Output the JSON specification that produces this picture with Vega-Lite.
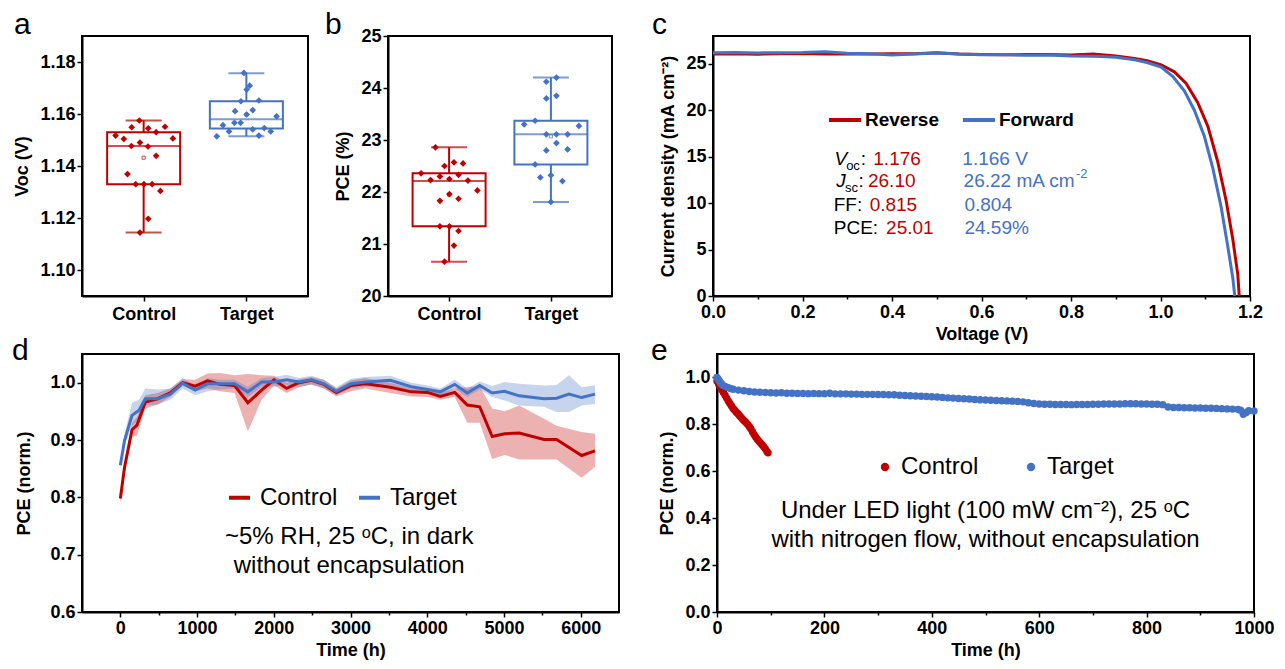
{
"$schema": "https://vega.github.io/schema/vega-lite/v6.json",
"background": "white",
"padding": {"left": 10, "top": 9, "right": 5, "bottom": 5},
"config": {
 "font": "Liberation Sans",
 "view": {"stroke": "black", "strokeWidth": 2},
 "axis": {"grid": false, "domainColor": "black", "domainWidth": 2, "tickColor": "black", "tickWidth": 1.5, "tickSize": 5, "labelFont": "Liberation Sans", "labelFontSize": 18, "labelFontWeight": "bold", "labelColor": "black", "labelPadding": 2, "titleFont": "Liberation Sans", "titleFontSize": 18, "titleFontWeight": "bold", "titleColor": "black", "labelOverlap": false, "labelFlush": false},
 "title": {"font": "Liberation Sans", "fontSize": 30, "fontWeight": "normal", "color": "black", "anchor": "start", "frame": "bounds", "baseline": "alphabetic", "offset": -4},
 "legend": {"labelFont": "Liberation Sans", "labelColor": "black", "padding": 0}
},
"datasets": {
 "aBox": [
  {"g": "Control", "x": 1, "lo": 1.1144, "q1": 1.133, "med": 1.1477, "q3": 1.153, "hi": 1.1575, "mean": 1.1432},
  {"g": "Target", "x": 2, "lo": 1.1514, "q1": 1.1544, "med": 1.158, "q3": 1.1649, "hi": 1.1757, "mean": 1.1598}
 ],
 "aPts": [
  {"g": "Control", "xpos": 0.958, "v": 1.1575},
  {"g": "Control", "xpos": 0.727, "v": 1.1517},
  {"g": "Control", "xpos": 0.884, "v": 1.1549},
  {"g": "Control", "xpos": 0.807, "v": 1.1504},
  {"g": "Control", "xpos": 1.045, "v": 1.1545},
  {"g": "Control", "xpos": 1.208, "v": 1.1551},
  {"g": "Control", "xpos": 1.122, "v": 1.153},
  {"g": "Control", "xpos": 1.285, "v": 1.1506},
  {"g": "Control", "xpos": 0.881, "v": 1.1477},
  {"g": "Control", "xpos": 0.964, "v": 1.149},
  {"g": "Control", "xpos": 1.042, "v": 1.1475},
  {"g": "Control", "xpos": 1.122, "v": 1.1439},
  {"g": "Control", "xpos": 0.843, "v": 1.1369},
  {"g": "Control", "xpos": 0.923, "v": 1.133},
  {"g": "Control", "xpos": 1.003, "v": 1.133},
  {"g": "Control", "xpos": 1.083, "v": 1.133},
  {"g": "Control", "xpos": 1.163, "v": 1.1304},
  {"g": "Control", "xpos": 1.045, "v": 1.1197},
  {"g": "Control", "xpos": 0.964, "v": 1.1144},
  {"g": "Target", "xpos": 1.976, "v": 1.1758},
  {"g": "Target", "xpos": 2.033, "v": 1.1709},
  {"g": "Target", "xpos": 2.003, "v": 1.1694},
  {"g": "Target", "xpos": 1.947, "v": 1.1649},
  {"g": "Target", "xpos": 2.122, "v": 1.1652},
  {"g": "Target", "xpos": 1.89, "v": 1.1611},
  {"g": "Target", "xpos": 2.003, "v": 1.1598},
  {"g": "Target", "xpos": 2.062, "v": 1.1615},
  {"g": "Target", "xpos": 2.294, "v": 1.1591},
  {"g": "Target", "xpos": 1.772, "v": 1.1557},
  {"g": "Target", "xpos": 1.884, "v": 1.1566},
  {"g": "Target", "xpos": 1.944, "v": 1.1566},
  {"g": "Target", "xpos": 1.831, "v": 1.1533},
  {"g": "Target", "xpos": 2.062, "v": 1.1541},
  {"g": "Target", "xpos": 2.175, "v": 1.1546},
  {"g": "Target", "xpos": 2.237, "v": 1.1533},
  {"g": "Target", "xpos": 1.712, "v": 1.1514},
  {"g": "Target", "xpos": 2.122, "v": 1.1517}
 ],
 "bBox": [
  {"g": "Control", "x": 1, "lo": 20.66, "q1": 21.34, "med": 22.21, "q3": 22.36, "hi": 22.86, "mean": 21.95},
  {"g": "Target", "x": 2, "lo": 21.81, "q1": 22.53, "med": 23.11, "q3": 23.37, "hi": 24.2, "mean": 23.07}
 ],
 "bPts": [
  {"g": "Control", "xpos": 0.866, "v": 22.86},
  {"g": "Control", "xpos": 0.955, "v": 22.5},
  {"g": "Control", "xpos": 1.048, "v": 22.57},
  {"g": "Control", "xpos": 1.137, "v": 22.55},
  {"g": "Control", "xpos": 0.725, "v": 22.36},
  {"g": "Control", "xpos": 0.818, "v": 22.23},
  {"g": "Control", "xpos": 0.91, "v": 22.3},
  {"g": "Control", "xpos": 1.003, "v": 22.25},
  {"g": "Control", "xpos": 1.093, "v": 22.33},
  {"g": "Control", "xpos": 1.185, "v": 22.22},
  {"g": "Control", "xpos": 1.278, "v": 22.03},
  {"g": "Control", "xpos": 1.003, "v": 21.96},
  {"g": "Control", "xpos": 0.91, "v": 21.83},
  {"g": "Control", "xpos": 1.093, "v": 21.87},
  {"g": "Control", "xpos": 0.91, "v": 21.34},
  {"g": "Control", "xpos": 1.003, "v": 21.34},
  {"g": "Control", "xpos": 1.093, "v": 21.25},
  {"g": "Control", "xpos": 1.048, "v": 20.97},
  {"g": "Control", "xpos": 0.955, "v": 20.66},
  {"g": "Target", "xpos": 2.054, "v": 24.2},
  {"g": "Target", "xpos": 1.955, "v": 24.12},
  {"g": "Target", "xpos": 2.054, "v": 23.85},
  {"g": "Target", "xpos": 1.955, "v": 23.8},
  {"g": "Target", "xpos": 1.737, "v": 23.3},
  {"g": "Target", "xpos": 1.845, "v": 23.37},
  {"g": "Target", "xpos": 2.275, "v": 23.27},
  {"g": "Target", "xpos": 1.955, "v": 23.11},
  {"g": "Target", "xpos": 2.054, "v": 23.11},
  {"g": "Target", "xpos": 2.164, "v": 23.11},
  {"g": "Target", "xpos": 2.054, "v": 22.94},
  {"g": "Target", "xpos": 1.955, "v": 22.8},
  {"g": "Target", "xpos": 2.164, "v": 22.82},
  {"g": "Target", "xpos": 1.845, "v": 22.53},
  {"g": "Target", "xpos": 1.896, "v": 22.28},
  {"g": "Target", "xpos": 2.0, "v": 22.32},
  {"g": "Target", "xpos": 2.113, "v": 22.21},
  {"g": "Target", "xpos": 2.0, "v": 21.81}
 ],
 "jv": [
  {"scan": "Reverse", "v": 0, "j": 26.05}, {"scan": "Reverse", "v": 0.05, "j": 26.08}, {"scan": "Reverse", "v": 0.1, "j": 26.04}, {"scan": "Reverse", "v": 0.15, "j": 26.1}, {"scan": "Reverse", "v": 0.2, "j": 26.12}, {"scan": "Reverse", "v": 0.25, "j": 26.06}, {"scan": "Reverse", "v": 0.3, "j": 26.1}, {"scan": "Reverse", "v": 0.35, "j": 26.05}, {"scan": "Reverse", "v": 0.4, "j": 26.08}, {"scan": "Reverse", "v": 0.45, "j": 26.1}, {"scan": "Reverse", "v": 0.5, "j": 26.2}, {"scan": "Reverse", "v": 0.55, "j": 26.05}, {"scan": "Reverse", "v": 0.6, "j": 26.0}, {"scan": "Reverse", "v": 0.65, "j": 25.98}, {"scan": "Reverse", "v": 0.7, "j": 26.0}, {"scan": "Reverse", "v": 0.75, "j": 26.0}, {"scan": "Reverse", "v": 0.8, "j": 25.95}, {"scan": "Reverse", "v": 0.85, "j": 26.05}, {"scan": "Reverse", "v": 0.868, "j": 25.98}, {"scan": "Reverse", "v": 0.9, "j": 25.85}, {"scan": "Reverse", "v": 0.942, "j": 25.59}, {"scan": "Reverse", "v": 0.97, "j": 25.35}, {"scan": "Reverse", "v": 1.0016, "j": 24.9}, {"scan": "Reverse", "v": 1.031, "j": 24.14}, {"scan": "Reverse", "v": 1.057, "j": 22.92}, {"scan": "Reverse", "v": 1.083, "j": 20.85}, {"scan": "Reverse", "v": 1.106, "j": 18.25}, {"scan": "Reverse", "v": 1.128, "j": 14.44}, {"scan": "Reverse", "v": 1.1466, "j": 10.28}, {"scan": "Reverse", "v": 1.1615, "j": 6.13}, {"scan": "Reverse", "v": 1.1727, "j": 2.33}, {"scan": "Reverse", "v": 1.176, "j": 0},
  {"scan": "Forward", "v": 0, "j": 26.2}, {"scan": "Forward", "v": 0.05, "j": 26.22}, {"scan": "Forward", "v": 0.1, "j": 26.18}, {"scan": "Forward", "v": 0.15, "j": 26.2}, {"scan": "Forward", "v": 0.2, "j": 26.22}, {"scan": "Forward", "v": 0.25, "j": 26.3}, {"scan": "Forward", "v": 0.3, "j": 26.15}, {"scan": "Forward", "v": 0.35, "j": 26.1}, {"scan": "Forward", "v": 0.4, "j": 25.95}, {"scan": "Forward", "v": 0.45, "j": 26.05}, {"scan": "Forward", "v": 0.5, "j": 26.18}, {"scan": "Forward", "v": 0.55, "j": 26.05}, {"scan": "Forward", "v": 0.6, "j": 25.98}, {"scan": "Forward", "v": 0.65, "j": 26.0}, {"scan": "Forward", "v": 0.7, "j": 25.92}, {"scan": "Forward", "v": 0.75, "j": 25.95}, {"scan": "Forward", "v": 0.8, "j": 25.85}, {"scan": "Forward", "v": 0.85, "j": 25.82}, {"scan": "Forward", "v": 0.868, "j": 25.8}, {"scan": "Forward", "v": 0.9, "j": 25.7}, {"scan": "Forward", "v": 0.942, "j": 25.45}, {"scan": "Forward", "v": 0.97, "j": 25.15}, {"scan": "Forward", "v": 1.0016, "j": 24.65}, {"scan": "Forward", "v": 1.0277, "j": 23.62}, {"scan": "Forward", "v": 1.0536, "j": 22.06}, {"scan": "Forward", "v": 1.0759, "j": 19.98}, {"scan": "Forward", "v": 1.098, "j": 17.2}, {"scan": "Forward", "v": 1.117, "j": 13.75}, {"scan": "Forward", "v": 1.1354, "j": 9.6}, {"scan": "Forward", "v": 1.15, "j": 5.44}, {"scan": "Forward", "v": 1.1615, "j": 1.97}, {"scan": "Forward", "v": 1.166, "j": 0}
 ],
 "cAnn": [
  {"k": "ki", "v": 0.2717, "j": 14.8, "t": "V"},
  {"k": "ks", "v": 0.2975, "j": 14.05, "t": "oc"},
  {"k": "k", "v": 0.33, "j": 14.8, "t": ":"},
  {"k": "r", "v": 0.3582, "j": 14.8, "t": "1.176"},
  {"k": "b", "v": 0.5572, "j": 14.8, "t": "1.166 V"},
  {"k": "ki", "v": 0.2754, "j": 12.37, "t": "J"},
  {"k": "ks", "v": 0.2947, "j": 11.65, "t": "sc"},
  {"k": "k", "v": 0.3251, "j": 12.37, "t": ":"},
  {"k": "r", "v": 0.3463, "j": 12.37, "t": "26.10"},
  {"k": "b", "v": 0.56, "j": 12.37, "t": "26.22 mA cm"},
  {"k": "bs", "v": 0.811, "j": 13.1, "t": "-2"},
  {"k": "k", "v": 0.2698, "j": 9.75, "t": "FF:"},
  {"k": "r", "v": 0.35, "j": 9.75, "t": "0.815"},
  {"k": "b", "v": 0.5618, "j": 9.75, "t": "0.804"},
  {"k": "k", "v": 0.2698, "j": 7.28, "t": "PCE:"},
  {"k": "r", "v": 0.3868, "j": 7.28, "t": "25.01"},
  {"k": "b", "v": 0.5618, "j": 7.28, "t": "24.59%"}
 ],
 "dData": [
  {"s": "Control", "t": 0, "p": 0.798, "lo": 0.79, "hi": 0.806},
  {"s": "Control", "t": 54, "p": 0.852, "lo": 0.84, "hi": 0.862},
  {"s": "Control", "t": 152, "p": 0.918, "lo": 0.905, "hi": 0.93},
  {"s": "Control", "t": 217, "p": 0.926, "lo": 0.908, "hi": 0.94},
  {"s": "Control", "t": 325, "p": 0.966, "lo": 0.955, "hi": 0.978},
  {"s": "Control", "t": 487, "p": 0.972, "lo": 0.962, "hi": 0.982},
  {"s": "Control", "t": 650, "p": 0.982, "lo": 0.975, "hi": 0.99},
  {"s": "Control", "t": 812, "p": 1.0, "lo": 0.994, "hi": 1.006},
  {"s": "Control", "t": 975, "p": 0.994, "lo": 0.985, "hi": 1.005},
  {"s": "Control", "t": 1137, "p": 1.003, "lo": 0.99, "hi": 1.016},
  {"s": "Control", "t": 1300, "p": 0.997, "lo": 0.985, "hi": 1.017},
  {"s": "Control", "t": 1489, "p": 0.995, "lo": 0.982, "hi": 1.013},
  {"s": "Control", "t": 1662, "p": 0.965, "lo": 0.915, "hi": 1.015},
  {"s": "Control", "t": 1841, "p": 0.987, "lo": 0.97, "hi": 1.013},
  {"s": "Control", "t": 2004, "p": 1.005, "lo": 0.995, "hi": 1.012},
  {"s": "Control", "t": 2166, "p": 0.99, "lo": 0.982, "hi": 1.0},
  {"s": "Control", "t": 2329, "p": 1.0, "lo": 0.992, "hi": 1.006},
  {"s": "Control", "t": 2491, "p": 1.004, "lo": 0.997, "hi": 1.01},
  {"s": "Control", "t": 2653, "p": 0.997, "lo": 0.99, "hi": 1.005},
  {"s": "Control", "t": 2816, "p": 0.983, "lo": 0.976, "hi": 0.99},
  {"s": "Control", "t": 3005, "p": 0.995, "lo": 0.985, "hi": 1.004},
  {"s": "Control", "t": 3195, "p": 0.998, "lo": 0.99, "hi": 1.008},
  {"s": "Control", "t": 3520, "p": 0.992, "lo": 0.982, "hi": 1.0},
  {"s": "Control", "t": 3791, "p": 0.984, "lo": 0.976, "hi": 0.99},
  {"s": "Control", "t": 4007, "p": 0.983, "lo": 0.975, "hi": 0.99},
  {"s": "Control", "t": 4170, "p": 0.976, "lo": 0.97, "hi": 0.983},
  {"s": "Control", "t": 4359, "p": 0.983, "lo": 0.975, "hi": 0.99},
  {"s": "Control", "t": 4522, "p": 0.961, "lo": 0.93, "hi": 0.992},
  {"s": "Control", "t": 4684, "p": 0.958, "lo": 0.93, "hi": 0.994},
  {"s": "Control", "t": 4847, "p": 0.906, "lo": 0.867, "hi": 0.955},
  {"s": "Control", "t": 5009, "p": 0.911, "lo": 0.874, "hi": 0.95},
  {"s": "Control", "t": 5199, "p": 0.912, "lo": 0.866, "hi": 0.96},
  {"s": "Control", "t": 5523, "p": 0.901, "lo": 0.866, "hi": 0.937},
  {"s": "Control", "t": 5686, "p": 0.901, "lo": 0.866, "hi": 0.925},
  {"s": "Control", "t": 6013, "p": 0.873, "lo": 0.834, "hi": 0.914},
  {"s": "Control", "t": 6187, "p": 0.881, "lo": 0.853, "hi": 0.911},
  {"s": "Target", "t": 0, "p": 0.856, "lo": 0.85, "hi": 0.862},
  {"s": "Target", "t": 54, "p": 0.899, "lo": 0.89, "hi": 0.91},
  {"s": "Target", "t": 152, "p": 0.943, "lo": 0.925, "hi": 0.965},
  {"s": "Target", "t": 244, "p": 0.952, "lo": 0.935, "hi": 0.97},
  {"s": "Target", "t": 325, "p": 0.972, "lo": 0.96, "hi": 0.99},
  {"s": "Target", "t": 487, "p": 0.972, "lo": 0.962, "hi": 0.988},
  {"s": "Target", "t": 650, "p": 0.98, "lo": 0.97, "hi": 0.99},
  {"s": "Target", "t": 812, "p": 0.999, "lo": 0.99, "hi": 1.008},
  {"s": "Target", "t": 975, "p": 0.987, "lo": 0.978, "hi": 0.995},
  {"s": "Target", "t": 1137, "p": 0.998, "lo": 0.985, "hi": 1.008},
  {"s": "Target", "t": 1300, "p": 0.998, "lo": 0.988, "hi": 1.005},
  {"s": "Target", "t": 1489, "p": 0.998, "lo": 0.99, "hi": 1.005},
  {"s": "Target", "t": 1662, "p": 0.984, "lo": 0.975, "hi": 0.993},
  {"s": "Target", "t": 1841, "p": 1.001, "lo": 0.993, "hi": 1.008},
  {"s": "Target", "t": 2004, "p": 1.001, "lo": 0.993, "hi": 1.01},
  {"s": "Target", "t": 2166, "p": 1.005, "lo": 0.996, "hi": 1.014},
  {"s": "Target", "t": 2329, "p": 1.001, "lo": 0.993, "hi": 1.008},
  {"s": "Target", "t": 2491, "p": 1.005, "lo": 0.997, "hi": 1.012},
  {"s": "Target", "t": 2653, "p": 0.998, "lo": 0.99, "hi": 1.005},
  {"s": "Target", "t": 2816, "p": 0.985, "lo": 0.978, "hi": 0.992},
  {"s": "Target", "t": 3005, "p": 0.998, "lo": 0.99, "hi": 1.007},
  {"s": "Target", "t": 3195, "p": 1.001, "lo": 0.993, "hi": 1.01},
  {"s": "Target", "t": 3520, "p": 1.004, "lo": 0.995, "hi": 1.012},
  {"s": "Target", "t": 3791, "p": 0.993, "lo": 0.985, "hi": 1.0},
  {"s": "Target", "t": 4007, "p": 0.988, "lo": 0.98, "hi": 0.995},
  {"s": "Target", "t": 4170, "p": 0.984, "lo": 0.975, "hi": 0.99},
  {"s": "Target", "t": 4359, "p": 0.997, "lo": 0.99, "hi": 1.005},
  {"s": "Target", "t": 4522, "p": 0.982, "lo": 0.975, "hi": 0.99},
  {"s": "Target", "t": 4684, "p": 0.995, "lo": 0.988, "hi": 1.002},
  {"s": "Target", "t": 4847, "p": 0.982, "lo": 0.975, "hi": 0.994},
  {"s": "Target", "t": 5009, "p": 0.985, "lo": 0.969, "hi": 1.001},
  {"s": "Target", "t": 5199, "p": 0.977, "lo": 0.96, "hi": 0.998},
  {"s": "Target", "t": 5523, "p": 0.972, "lo": 0.958, "hi": 0.995},
  {"s": "Target", "t": 5686, "p": 0.973, "lo": 0.949, "hi": 0.996},
  {"s": "Target", "t": 5848, "p": 0.98, "lo": 0.949, "hi": 1.013},
  {"s": "Target", "t": 6013, "p": 0.974, "lo": 0.96, "hi": 0.992},
  {"s": "Target", "t": 6187, "p": 0.98, "lo": 0.963, "hi": 0.995}
 ],
 "dAnn": [
  {"t": 2983, "y": 0.731, "txt": "~5% RH, 25 ᵒC, in dark"},
  {"t": 2983, "y": 0.681, "txt": "without encapsulation"}
 ],
 "eData": [
  {"s": "Control", "t": 0, "p": 0.985}, {"s": "Control", "t": 3, "p": 0.972}, {"s": "Control", "t": 6, "p": 0.96}, {"s": "Control", "t": 9, "p": 0.948}, {"s": "Control", "t": 12, "p": 0.936}, {"s": "Control", "t": 15, "p": 0.924}, {"s": "Control", "t": 18, "p": 0.912}, {"s": "Control", "t": 21, "p": 0.9}, {"s": "Control", "t": 24, "p": 0.889}, {"s": "Control", "t": 27, "p": 0.878}, {"s": "Control", "t": 30, "p": 0.868}, {"s": "Control", "t": 33, "p": 0.86}, {"s": "Control", "t": 36, "p": 0.852}, {"s": "Control", "t": 39, "p": 0.845}, {"s": "Control", "t": 42, "p": 0.837}, {"s": "Control", "t": 45, "p": 0.829}, {"s": "Control", "t": 48, "p": 0.821}, {"s": "Control", "t": 51, "p": 0.814}, {"s": "Control", "t": 54, "p": 0.808}, {"s": "Control", "t": 57, "p": 0.8}, {"s": "Control", "t": 60, "p": 0.791}, {"s": "Control", "t": 63, "p": 0.781}, {"s": "Control", "t": 66, "p": 0.769}, {"s": "Control", "t": 69, "p": 0.757}, {"s": "Control", "t": 72, "p": 0.746}, {"s": "Control", "t": 75, "p": 0.737}, {"s": "Control", "t": 78, "p": 0.728}, {"s": "Control", "t": 81, "p": 0.721}, {"s": "Control", "t": 84, "p": 0.713}, {"s": "Control", "t": 87, "p": 0.705}, {"s": "Control", "t": 90, "p": 0.695}, {"s": "Control", "t": 93, "p": 0.684}, {"s": "Control", "t": 95, "p": 0.679},
  {"s": "Target", "t": 0, "p": 1.0}, {"s": "Target", "t": 2, "p": 0.993}, {"s": "Target", "t": 4, "p": 0.986}, {"s": "Target", "t": 6, "p": 0.979}, {"s": "Target", "t": 8, "p": 0.973}, {"s": "Target", "t": 10, "p": 0.968}, {"s": "Target", "t": 15, "p": 0.962}, {"s": "Target", "t": 20, "p": 0.957}, {"s": "Target", "t": 25, "p": 0.953}, {"s": "Target", "t": 30, "p": 0.95}, {"s": "Target", "t": 40, "p": 0.946}, {"s": "Target", "t": 50, "p": 0.943}, {"s": "Target", "t": 60, "p": 0.94}, {"s": "Target", "t": 70, "p": 0.938}, {"s": "Target", "t": 80, "p": 0.937}, {"s": "Target", "t": 90, "p": 0.936}, {"s": "Target", "t": 100, "p": 0.935}, {"s": "Target", "t": 110, "p": 0.934}, {"s": "Target", "t": 120, "p": 0.935}, {"s": "Target", "t": 130, "p": 0.933}, {"s": "Target", "t": 140, "p": 0.933}, {"s": "Target", "t": 150, "p": 0.932}, {"s": "Target", "t": 160, "p": 0.932}, {"s": "Target", "t": 170, "p": 0.931}, {"s": "Target", "t": 180, "p": 0.932}, {"s": "Target", "t": 190, "p": 0.931}, {"s": "Target", "t": 200, "p": 0.931}, {"s": "Target", "t": 210, "p": 0.933}, {"s": "Target", "t": 220, "p": 0.93}, {"s": "Target", "t": 230, "p": 0.93}, {"s": "Target", "t": 240, "p": 0.93}, {"s": "Target", "t": 250, "p": 0.929}, {"s": "Target", "t": 260, "p": 0.929}, {"s": "Target", "t": 270, "p": 0.928}, {"s": "Target", "t": 280, "p": 0.928}, {"s": "Target", "t": 290, "p": 0.928}, {"s": "Target", "t": 300, "p": 0.927}, {"s": "Target", "t": 310, "p": 0.927}, {"s": "Target", "t": 320, "p": 0.926}, {"s": "Target", "t": 330, "p": 0.926}, {"s": "Target", "t": 340, "p": 0.924}, {"s": "Target", "t": 350, "p": 0.923}, {"s": "Target", "t": 360, "p": 0.922}, {"s": "Target", "t": 370, "p": 0.921}, {"s": "Target", "t": 380, "p": 0.92}, {"s": "Target", "t": 390, "p": 0.919}, {"s": "Target", "t": 400, "p": 0.918}, {"s": "Target", "t": 410, "p": 0.917}, {"s": "Target", "t": 420, "p": 0.915}, {"s": "Target", "t": 430, "p": 0.913}, {"s": "Target", "t": 440, "p": 0.912}, {"s": "Target", "t": 450, "p": 0.91}, {"s": "Target", "t": 460, "p": 0.909}, {"s": "Target", "t": 470, "p": 0.908}, {"s": "Target", "t": 480, "p": 0.906}, {"s": "Target", "t": 490, "p": 0.905}, {"s": "Target", "t": 500, "p": 0.904}, {"s": "Target", "t": 510, "p": 0.903}, {"s": "Target", "t": 520, "p": 0.902}, {"s": "Target", "t": 530, "p": 0.901}, {"s": "Target", "t": 540, "p": 0.9}, {"s": "Target", "t": 550, "p": 0.899}, {"s": "Target", "t": 560, "p": 0.898}, {"s": "Target", "t": 570, "p": 0.896}, {"s": "Target", "t": 580, "p": 0.892}, {"s": "Target", "t": 590, "p": 0.889}, {"s": "Target", "t": 600, "p": 0.887}, {"s": "Target", "t": 610, "p": 0.886}, {"s": "Target", "t": 620, "p": 0.886}, {"s": "Target", "t": 630, "p": 0.885}, {"s": "Target", "t": 640, "p": 0.885}, {"s": "Target", "t": 650, "p": 0.885}, {"s": "Target", "t": 660, "p": 0.884}, {"s": "Target", "t": 670, "p": 0.885}, {"s": "Target", "t": 680, "p": 0.885}, {"s": "Target", "t": 690, "p": 0.885}, {"s": "Target", "t": 700, "p": 0.886}, {"s": "Target", "t": 710, "p": 0.886}, {"s": "Target", "t": 720, "p": 0.887}, {"s": "Target", "t": 730, "p": 0.887}, {"s": "Target", "t": 740, "p": 0.887}, {"s": "Target", "t": 750, "p": 0.887}, {"s": "Target", "t": 760, "p": 0.888}, {"s": "Target", "t": 770, "p": 0.888}, {"s": "Target", "t": 780, "p": 0.888}, {"s": "Target", "t": 790, "p": 0.887}, {"s": "Target", "t": 800, "p": 0.887}, {"s": "Target", "t": 810, "p": 0.886}, {"s": "Target", "t": 820, "p": 0.886}, {"s": "Target", "t": 830, "p": 0.884}, {"s": "Target", "t": 840, "p": 0.874}, {"s": "Target", "t": 850, "p": 0.872}, {"s": "Target", "t": 860, "p": 0.872}, {"s": "Target", "t": 870, "p": 0.871}, {"s": "Target", "t": 880, "p": 0.871}, {"s": "Target", "t": 890, "p": 0.87}, {"s": "Target", "t": 900, "p": 0.87}, {"s": "Target", "t": 910, "p": 0.869}, {"s": "Target", "t": 920, "p": 0.869}, {"s": "Target", "t": 930, "p": 0.868}, {"s": "Target", "t": 940, "p": 0.867}, {"s": "Target", "t": 950, "p": 0.866}, {"s": "Target", "t": 960, "p": 0.865}, {"s": "Target", "t": 970, "p": 0.864}, {"s": "Target", "t": 975, "p": 0.86}, {"s": "Target", "t": 980, "p": 0.843}, {"s": "Target", "t": 985, "p": 0.85}, {"s": "Target", "t": 990, "p": 0.858}, {"s": "Target", "t": 1000, "p": 0.857}
 ],
 "eAnn": [
  {"t": 500, "y": 0.429, "txt": "Under LED light (100 mW cm⁻²), 25 ᵒC"},
  {"t": 500, "y": 0.309, "txt": "with nitrogen flow, without encapsulation"}
 ]
},
"spacing": -9,
"resolve": {"scale": {"color": "independent"}, "legend": {"color": "independent"}},
"vconcat": [
 {
  "spacing": 37,
  "resolve": {"scale": {"color": "independent"}, "legend": {"color": "independent"}},
  "hconcat": [
   {
    "spacing": 14,
    "resolve": {"scale": {"color": "independent"}, "legend": {"color": "independent"}},
    "hconcat": [
     {
      "width": 226, "height": 260,
      "title": {"text": "a", "offset": -4},
      "layer": [
       {"data": {"name": "aBox"}, "mark": {"type": "bar", "size": 73, "filled": false, "strokeWidth": 2},
        "encoding": {
         "x": {"field": "x", "type": "quantitative", "scale": {"domain": [0.5, 2.5]}, "axis": {"title": null, "values": [1, 2], "labelExpr": "datum.value == 1 ? 'Control' : 'Target'", "labelPadding": 4, "labelOverlap": false}},
         "y": {"field": "q1", "type": "quantitative", "scale": {"domain": [1.09, 1.19], "zero": false}, "axis": {"title": "Voc (V)", "values": [1.1, 1.11, 1.12, 1.13, 1.14, 1.15, 1.16, 1.17, 1.18], "labelExpr": "round(datum.value*100) % 2 == 0 ? format(datum.value, '.2f') : ''", "labelOverlap": false, "tickSize": {"condition": {"test": "round(datum.value*100) % 2 == 0", "value": 5}, "value": 3}, "titlePadding": 8}},
         "y2": {"field": "q3"},
         "color": {"field": "g", "type": "nominal", "scale": {"domain": ["Control", "Target"], "range": ["#C00000", "#4472C4"]}, "legend": null}}},
       {"data": {"name": "aBox"}, "mark": {"type": "tick", "orient": "horizontal", "size": 73, "thickness": 2},
        "encoding": {"x": {"field": "x", "type": "quantitative"}, "y": {"field": "med", "type": "quantitative"}, "color": {"field": "g", "type": "nominal", "legend": null}}},
       {"data": {"name": "aBox"}, "mark": {"type": "rule", "strokeWidth": 2},
        "encoding": {"x": {"field": "x", "type": "quantitative"}, "y": {"field": "lo", "type": "quantitative"}, "y2": {"field": "q1"}, "color": {"field": "g", "type": "nominal", "legend": null}}},
       {"data": {"name": "aBox"}, "mark": {"type": "rule", "strokeWidth": 2},
        "encoding": {"x": {"field": "x", "type": "quantitative"}, "y": {"field": "q3", "type": "quantitative"}, "y2": {"field": "hi"}, "color": {"field": "g", "type": "nominal", "legend": null}}},
       {"data": {"name": "aBox"}, "mark": {"type": "tick", "orient": "horizontal", "size": 36, "thickness": 2},
        "encoding": {"x": {"field": "x", "type": "quantitative"}, "y": {"field": "lo", "type": "quantitative"}, "color": {"field": "g", "type": "nominal", "legend": null}}},
       {"data": {"name": "aBox"}, "mark": {"type": "tick", "orient": "horizontal", "size": 36, "thickness": 2},
        "encoding": {"x": {"field": "x", "type": "quantitative"}, "y": {"field": "hi", "type": "quantitative"}, "color": {"field": "g", "type": "nominal", "legend": null}}},
       {"data": {"name": "aBox"}, "mark": {"type": "point", "shape": "square", "filled": false, "size": 10, "strokeWidth": 1},
        "encoding": {"x": {"field": "x", "type": "quantitative"}, "y": {"field": "mean", "type": "quantitative"}, "color": {"field": "g", "type": "nominal", "legend": null}}},
       {"data": {"name": "aPts"}, "mark": {"type": "point", "shape": "diamond", "filled": true, "size": 45, "opacity": 1},
        "encoding": {"x": {"field": "xpos", "type": "quantitative"}, "y": {"field": "v", "type": "quantitative"}, "color": {"field": "g", "type": "nominal", "legend": null}}}
      ]
     },
     {
      "width": 224, "height": 260,
      "title": {"text": "b", "offset": -13, "dx": -10},
      "layer": [
       {"data": {"name": "bBox"}, "mark": {"type": "bar", "size": 73, "filled": false, "strokeWidth": 2},
        "encoding": {
         "x": {"field": "x", "type": "quantitative", "scale": {"domain": [0.5, 2.5]}, "axis": {"title": null, "values": [1, 2], "labelExpr": "datum.value == 1 ? 'Control' : 'Target'", "labelPadding": 4, "labelOverlap": false}},
         "y": {"field": "q1", "type": "quantitative", "scale": {"domain": [20, 25], "zero": false}, "axis": {"title": "PCE (%)", "values": [20, 20.5, 21, 21.5, 22, 22.5, 23, 23.5, 24, 24.5, 25], "labelExpr": "datum.value % 1 == 0 ? format(datum.value, 'd') : ''", "labelOverlap": false, "tickSize": {"condition": {"test": "datum.value % 1 == 0", "value": 5}, "value": 3}, "titlePadding": 8}},
         "y2": {"field": "q3"},
         "color": {"field": "g", "type": "nominal", "scale": {"domain": ["Control", "Target"], "range": ["#C00000", "#4472C4"]}, "legend": null}}},
       {"data": {"name": "bBox"}, "mark": {"type": "tick", "orient": "horizontal", "size": 73, "thickness": 2},
        "encoding": {"x": {"field": "x", "type": "quantitative"}, "y": {"field": "med", "type": "quantitative"}, "color": {"field": "g", "type": "nominal", "legend": null}}},
       {"data": {"name": "bBox"}, "mark": {"type": "rule", "strokeWidth": 2},
        "encoding": {"x": {"field": "x", "type": "quantitative"}, "y": {"field": "lo", "type": "quantitative"}, "y2": {"field": "q1"}, "color": {"field": "g", "type": "nominal", "legend": null}}},
       {"data": {"name": "bBox"}, "mark": {"type": "rule", "strokeWidth": 2},
        "encoding": {"x": {"field": "x", "type": "quantitative"}, "y": {"field": "q3", "type": "quantitative"}, "y2": {"field": "hi"}, "color": {"field": "g", "type": "nominal", "legend": null}}},
       {"data": {"name": "bBox"}, "mark": {"type": "tick", "orient": "horizontal", "size": 36, "thickness": 2},
        "encoding": {"x": {"field": "x", "type": "quantitative"}, "y": {"field": "lo", "type": "quantitative"}, "color": {"field": "g", "type": "nominal", "legend": null}}},
       {"data": {"name": "bBox"}, "mark": {"type": "tick", "orient": "horizontal", "size": 36, "thickness": 2},
        "encoding": {"x": {"field": "x", "type": "quantitative"}, "y": {"field": "hi", "type": "quantitative"}, "color": {"field": "g", "type": "nominal", "legend": null}}},
       {"data": {"name": "bBox"}, "mark": {"type": "point", "shape": "square", "filled": false, "size": 10, "strokeWidth": 1},
        "encoding": {"x": {"field": "x", "type": "quantitative"}, "y": {"field": "mean", "type": "quantitative"}, "color": {"field": "g", "type": "nominal", "legend": null}}},
       {"data": {"name": "bPts"}, "mark": {"type": "point", "shape": "diamond", "filled": true, "size": 45, "opacity": 1},
        "encoding": {"x": {"field": "xpos", "type": "quantitative"}, "y": {"field": "v", "type": "quantitative"}, "color": {"field": "g", "type": "nominal", "legend": null}}}
      ]
     }
    ]
   },
   {
    "width": 537, "height": 260,
    "title": {"text": "c", "offset": -4, "dx": -8},
    "layer": [
     {"data": {"name": "jv"}, "transform": [{"filter": "datum.scan == 'Reverse'"}], "mark": {"type": "line", "strokeWidth": 3},
      "encoding": {
       "x": {"field": "v", "type": "quantitative", "scale": {"domain": [0, 1.2]}, "axis": {"title": "Voltage (V)", "values": [0, 0.1, 0.2, 0.3, 0.4, 0.5, 0.6, 0.7, 0.8, 0.9, 1.0, 1.1, 1.2], "labelExpr": "round(datum.value*10) % 2 == 0 ? format(datum.value, '.1f') : ''", "labelOverlap": false, "tickSize": {"condition": {"test": "round(datum.value*10) % 2 == 0", "value": 5}, "value": 3}}},
       "y": {"field": "j", "type": "quantitative", "scale": {"domain": [0, 27]}, "axis": {"title": "Current density (mA cm⁻²)", "values": [0, 2.5, 5, 7.5, 10, 12.5, 15, 17.5, 20, 22.5, 25], "labelExpr": "datum.value % 5 == 0 ? format(datum.value, 'd') : ''", "labelOverlap": false, "tickSize": {"condition": {"test": "datum.value % 5 == 0", "value": 5}, "value": 3}, "titlePadding": 8}},
       "color": {"field": "scan", "type": "nominal", "scale": {"domain": ["Reverse", "Forward"], "range": ["#C00000", "#4472C4"]},
        "legend": {"orient": "none", "legendX": 114, "legendY": 66, "direction": "horizontal", "title": null, "symbolType": "stroke", "symbolStrokeWidth": 4, "symbolSize": 1024, "labelFontSize": 19, "labelFontWeight": "bold", "columnPadding": 16, "labelOffset": 2}},
       "order": {"field": "v", "type": "quantitative"}}},
     {"data": {"name": "jv"}, "transform": [{"filter": "datum.scan == 'Forward'"}], "mark": {"type": "line", "strokeWidth": 3},
      "encoding": {"x": {"field": "v", "type": "quantitative"}, "y": {"field": "j", "type": "quantitative"}, "color": {"field": "scan", "type": "nominal"}, "order": {"field": "v", "type": "quantitative"}}},
     {"data": {"name": "cAnn"}, "transform": [{"filter": "datum.k == 'k'"}], "mark": {"type": "text", "align": "left", "baseline": "middle", "fontSize": 19, "color": "black"},
      "encoding": {"x": {"field": "v", "type": "quantitative"}, "y": {"field": "j", "type": "quantitative"}, "text": {"field": "t"}}},
     {"data": {"name": "cAnn"}, "transform": [{"filter": "datum.k == 'ki'"}], "mark": {"type": "text", "align": "left", "baseline": "middle", "fontSize": 19, "fontStyle": "italic", "color": "black"},
      "encoding": {"x": {"field": "v", "type": "quantitative"}, "y": {"field": "j", "type": "quantitative"}, "text": {"field": "t"}}},
     {"data": {"name": "cAnn"}, "transform": [{"filter": "datum.k == 'ks'"}], "mark": {"type": "text", "align": "left", "baseline": "middle", "fontSize": 13, "color": "black"},
      "encoding": {"x": {"field": "v", "type": "quantitative"}, "y": {"field": "j", "type": "quantitative"}, "text": {"field": "t"}}},
     {"data": {"name": "cAnn"}, "transform": [{"filter": "datum.k == 'r'"}], "mark": {"type": "text", "align": "left", "baseline": "middle", "fontSize": 19, "color": "#C00000"},
      "encoding": {"x": {"field": "v", "type": "quantitative"}, "y": {"field": "j", "type": "quantitative"}, "text": {"field": "t"}}},
     {"data": {"name": "cAnn"}, "transform": [{"filter": "datum.k == 'b'"}], "mark": {"type": "text", "align": "left", "baseline": "middle", "fontSize": 19, "color": "#4472C4"},
      "encoding": {"x": {"field": "v", "type": "quantitative"}, "y": {"field": "j", "type": "quantitative"}, "text": {"field": "t"}}},
     {"data": {"name": "cAnn"}, "transform": [{"filter": "datum.k == 'bs'"}], "mark": {"type": "text", "align": "left", "baseline": "middle", "fontSize": 13, "color": "#4472C4"},
      "encoding": {"x": {"field": "v", "type": "quantitative"}, "y": {"field": "j", "type": "quantitative"}, "text": {"field": "t"}}}
    ]
   }
  ]
 },
 {
  "spacing": 29,
  "resolve": {"scale": {"color": "independent"}, "legend": {"color": "independent"}},
  "hconcat": [
   {
    "width": 537, "height": 258,
    "title": {"text": "d", "offset": -12, "dx": -4},
    "layer": [
     {"data": {"name": "dData"}, "mark": {"type": "area", "fillOpacity": 0.3},
      "encoding": {
       "x": {"field": "t", "type": "quantitative", "scale": {"domain": [-500, 6500]}, "axis": {"title": "Time (h)", "values": [0, 500, 1000, 1500, 2000, 2500, 3000, 3500, 4000, 4500, 5000, 5500, 6000], "labelExpr": "datum.value % 1000 == 0 ? format(datum.value, 'd') : ''", "labelOverlap": false, "tickSize": {"condition": {"test": "datum.value % 1000 == 0", "value": 5}, "value": 3}}},
       "y": {"field": "lo", "type": "quantitative", "scale": {"domain": [0.6, 1.05]}, "axis": {"title": "PCE (norm.)", "values": [0.6, 0.65, 0.7, 0.75, 0.8, 0.85, 0.9, 0.95, 1.0, 1.05], "labelExpr": "round(datum.value*100) % 10 == 0 ? format(datum.value, '.1f') : ''", "labelOverlap": false, "tickSize": {"condition": {"test": "round(datum.value*100) % 10 == 0", "value": 5}, "value": 3}, "titlePadding": 16}},
       "y2": {"field": "hi"},
       "color": {"field": "s", "type": "nominal", "scale": {"domain": ["Control", "Target"], "range": ["#C00000", "#4472C4"]}}}},
     {"data": {"name": "dData"}, "transform": [{"filter": "datum.s == 'Control'"}], "mark": {"type": "line", "strokeWidth": 3},
      "encoding": {"x": {"field": "t", "type": "quantitative"}, "y": {"field": "p", "type": "quantitative"},
       "color": {"field": "s", "type": "nominal",
        "legend": {"orient": "none", "legendX": 145, "legendY": 131, "direction": "horizontal", "title": null, "symbolType": "stroke", "symbolStrokeWidth": 4, "symbolSize": 441, "symbolOpacity": 1, "labelFontSize": 24, "columnPadding": 13, "labelOffset": 8}}}},
     {"data": {"name": "dData"}, "transform": [{"filter": "datum.s == 'Target'"}], "mark": {"type": "line", "strokeWidth": 3},
      "encoding": {"x": {"field": "t", "type": "quantitative"}, "y": {"field": "p", "type": "quantitative"}, "color": {"field": "s", "type": "nominal"}}},
     {"data": {"name": "dAnn"}, "mark": {"type": "text", "align": "center", "baseline": "middle", "fontSize": 24, "color": "black"},
      "encoding": {"x": {"field": "t", "type": "quantitative"}, "y": {"field": "y", "type": "quantitative"}, "text": {"field": "txt"}}}
    ]
   },
   {
    "width": 537, "height": 258,
    "title": {"text": "e", "offset": -12, "dx": -8},
    "layer": [
     {"data": {"name": "eData"}, "mark": {"type": "circle", "size": 55, "opacity": 1},
      "encoding": {
       "x": {"field": "t", "type": "quantitative", "scale": {"domain": [0, 1000]}, "axis": {"title": "Time (h)", "values": [0, 100, 200, 300, 400, 500, 600, 700, 800, 900, 1000], "labelExpr": "datum.value % 200 == 0 ? format(datum.value, 'd') : ''", "labelOverlap": false, "tickSize": {"condition": {"test": "datum.value % 200 == 0", "value": 5}, "value": 3}}},
       "y": {"field": "p", "type": "quantitative", "scale": {"domain": [0, 1.1]}, "axis": {"title": "PCE (norm.)", "values": [0, 0.1, 0.2, 0.3, 0.4, 0.5, 0.6, 0.7, 0.8, 0.9, 1.0, 1.1], "labelExpr": "round(datum.value*10) % 2 == 0 ? format(datum.value, '.1f') : ''", "labelOverlap": false, "tickSize": {"condition": {"test": "round(datum.value*10) % 2 == 0", "value": 5}, "value": 3}, "titlePadding": 8}},
       "color": {"field": "s", "type": "nominal", "scale": {"domain": ["Control", "Target"], "range": ["#C00000", "#4472C4"]},
        "legend": {"orient": "none", "legendX": 156, "legendY": 101, "direction": "horizontal", "title": null, "symbolType": "circle", "symbolSize": 70, "labelFontSize": 24, "columnPadding": 40, "labelOffset": 4}}}},
     {"data": {"name": "eAnn"}, "mark": {"type": "text", "align": "center", "baseline": "middle", "fontSize": 24, "color": "black"},
      "encoding": {"x": {"field": "t", "type": "quantitative"}, "y": {"field": "y", "type": "quantitative"}, "text": {"field": "txt"}}}
    ]
   }
  ]
 }
]
}
